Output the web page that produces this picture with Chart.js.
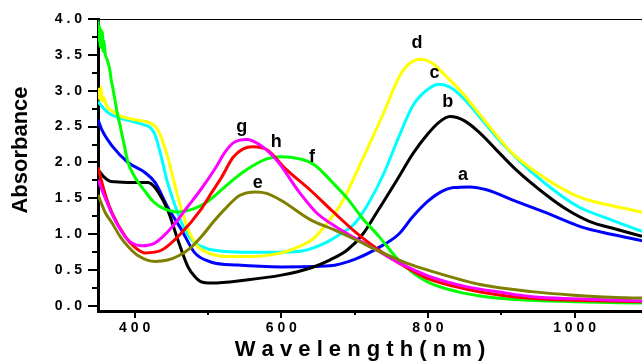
<!DOCTYPE html>
<html>
<head>
<meta charset="utf-8">
<script src="https://cdn.jsdelivr.net/npm/chart.js@4/dist/chart.umd.min.js"></script>
<style>
  html, body { margin: 0; padding: 0; background: #fff; }
  #wrap { width: 642px; height: 363px; position: relative; }
</style>
</head>
<body>
<div id="wrap"><canvas id="myChart"></canvas></div>
<script>
// curve a (blue)
var wlA  = [350, 355, 370, 391, 414, 428, 445, 464, 482, 505, 540, 600, 666, 700, 734, 760, 779, 800, 816, 835, 857, 880, 915, 961, 1010, 1050, 1092];
var absA = [2.6, 2.46, 2.22, 2.0, 1.86, 1.72, 1.38, 1.06, 0.74, 0.61, 0.57, 0.545, 0.56, 0.65, 0.82, 1.0, 1.24, 1.46, 1.58, 1.65, 1.66, 1.62, 1.48, 1.3, 1.1, 1.0, 0.91];
// curve b (black)
var wlB  = [350, 358, 366, 373, 391, 418, 425, 432, 445, 459, 473, 482, 490, 505, 550, 600, 640, 666, 690, 711, 730, 758, 780, 800, 815, 830, 850, 870, 893, 920, 961, 990, 1020, 1057, 1092];
var absB = [1.9, 1.8, 1.74, 1.73, 1.72, 1.72, 1.68, 1.59, 1.34, 0.92, 0.54, 0.41, 0.34, 0.32, 0.36, 0.43, 0.53, 0.64, 0.78, 1.0, 1.3, 1.76, 2.13, 2.4, 2.56, 2.64, 2.58, 2.42, 2.18, 1.9, 1.55, 1.34, 1.18, 1.07, 0.97];
// curve c (cyan)
var wlC  = [350, 358, 366, 380, 398, 414, 421, 428, 437, 444, 451, 464, 478, 496, 523, 560, 600, 630, 660, 680, 700, 720, 740, 760, 780, 800, 815, 830, 850, 870, 900, 940, 980, 1006, 1050, 1092];
var absC = [2.85, 2.75, 2.68, 2.62, 2.57, 2.52, 2.49, 2.38, 2.05, 1.75, 1.52, 1.16, 0.92, 0.81, 0.76, 0.75, 0.75, 0.77, 0.88, 1.0, 1.15, 1.45, 1.85, 2.35, 2.8, 3.02, 3.09, 3.05, 2.88, 2.64, 2.28, 1.88, 1.55, 1.38, 1.2, 1.04];
// curve d (yellow)
var wlD  = [350, 351, 352, 354, 356, 358, 362, 366, 380, 398, 425, 432, 438, 445, 452, 459, 466, 473, 486, 500, 523, 557, 600, 625, 645, 666, 683, 698, 720, 740, 761, 775, 790, 805, 825, 847, 880, 915, 960, 1006, 1050, 1092];
var absD = [2.9, 3.02, 2.88, 3.05, 2.85, 2.9, 2.78, 2.74, 2.65, 2.6, 2.53, 2.45, 2.3, 2.08, 1.8, 1.52, 1.28, 1.06, 0.83, 0.74, 0.69, 0.69, 0.74, 0.83, 0.95, 1.2, 1.45, 1.76, 2.25, 2.7, 3.2, 3.38, 3.44, 3.39, 3.2, 2.97, 2.55, 2.13, 1.78, 1.52, 1.4, 1.31];
// curve e (olive)
var wlE  = [350, 360, 369, 380, 391, 405, 428, 445, 460, 475, 492, 508, 523, 543, 565, 580, 600, 640, 670, 700, 734, 770, 803, 871, 942, 1000, 1050, 1092];
var absE = [1.55, 1.3, 1.16, 0.97, 0.83, 0.7, 0.62, 0.64, 0.7, 0.8, 0.98, 1.18, 1.35, 1.54, 1.59, 1.57, 1.47, 1.2, 1.07, 0.93, 0.76, 0.6, 0.49, 0.3, 0.2, 0.15, 0.12, 0.11];
// curve f (green)
var wlF  = [350, 351, 352, 353, 354, 355, 356, 357, 358, 360, 362, 364, 366, 368, 370, 373, 376, 380, 385, 391, 400, 414, 425, 437, 459, 482, 500, 523, 550, 580, 600, 625, 645, 670, 690, 711, 734, 758, 780, 803, 840, 871, 920, 1000, 1092];
var absF = [3.98, 3.7, 3.9, 3.62, 3.85, 3.6, 3.82, 3.55, 3.7, 3.5, 3.45, 3.38, 3.3, 3.15, 3.05, 2.88, 2.7, 2.52, 2.28, 2.0, 1.8, 1.6, 1.46, 1.37, 1.31, 1.36, 1.46, 1.66, 1.88, 2.05, 2.08, 2.05, 1.97, 1.72, 1.5, 1.22, 0.96, 0.66, 0.46, 0.32, 0.2, 0.14, 0.09, 0.06, 0.04];
// curve g (magenta)
var wlG  = [350, 360, 373, 391, 410, 428, 451, 472, 490, 510, 523, 534, 553, 570, 593, 625, 648, 675, 700, 730, 761, 800, 852, 900, 942, 1000, 1092];
var absG = [1.76, 1.5, 1.2, 0.92, 0.84, 0.88, 1.1, 1.38, 1.62, 1.92, 2.14, 2.27, 2.32, 2.25, 2.04, 1.58, 1.3, 1.1, 0.95, 0.78, 0.6, 0.42, 0.27, 0.19, 0.13, 0.1, 0.07];
// curve h (red)
var wlH  = [350, 360, 369, 387, 400, 414, 437, 464, 490, 505, 519, 534, 548, 561, 580, 607, 639, 670, 700, 730, 760, 800, 850, 900, 950, 1000, 1092];
var absH = [1.93, 1.55, 1.3, 0.97, 0.82, 0.74, 0.78, 1.02, 1.34, 1.58, 1.8, 2.07, 2.19, 2.22, 2.18, 1.9, 1.62, 1.32, 1.04, 0.8, 0.6, 0.38, 0.24, 0.15, 0.1, 0.08, 0.06];

var curveLabels = ['a', 'b', 'c', 'd', 'e', 'f', 'g', 'h'];
var labelWl  = [848, 827, 809, 785, 568, 642, 546, 593];
var labelAbs = [1.83, 2.84, 3.25, 3.67, 1.72, 2.07, 2.49, 2.29];

var yTicks = [0, 0.5, 1.0, 1.5, 2.0, 2.5, 3.0, 3.5, 4.0];
var xTicks = [400, 600, 800, 1000];
var yMinor = [0.25, 0.75, 1.25, 1.75, 2.25, 2.75, 3.25, 3.75];
var xMinor = [500, 700, 900];

function pts(wl, ab) {
	return wl.map(function (x, i) { return {x: x, y: ab[i]}; });
}
function spaced(s) { return s.split('').join(' '); }

function line(wl, ab, col) {
	return {
		data: pts(wl, ab),
		borderColor: col,
		borderWidth: 3,
		pointRadius: 0,
		fill: false,
		cubicInterpolationMode: 'monotone'
	};
}

var decor = {
	id: 'decor',
	afterDraw: function (chart) {
		var ctx = chart.ctx;
		var a = chart.chartArea;
		var xs = chart.scales.x, ys = chart.scales.y;
		ctx.save();
		ctx.strokeStyle = '#000';
		// top frame line
		ctx.lineWidth = 1;
		ctx.beginPath();
		ctx.moveTo(a.left, a.top + 0.5);
		ctx.lineTo(a.right, a.top + 0.5);
		ctx.stroke();
		// ticks
		ctx.lineWidth = 2;
		ctx.beginPath();
		yTicks.forEach(function (v) { var p = Math.round(ys.getPixelForValue(v)); ctx.moveTo(a.left - 10, p); ctx.lineTo(a.left, p); });
		yMinor.forEach(function (v) { var p = Math.round(ys.getPixelForValue(v)); ctx.moveTo(a.left - 6, p); ctx.lineTo(a.left, p); });
		xTicks.forEach(function (v) { var p = Math.round(xs.getPixelForValue(v)); ctx.moveTo(p, a.bottom); ctx.lineTo(p, a.bottom + 7); });
		xMinor.forEach(function (v) { var p = Math.round(xs.getPixelForValue(v)); ctx.moveTo(p, a.bottom); ctx.lineTo(p, a.bottom + 4); });
		ctx.stroke();
		// curve letters
		ctx.fillStyle = '#000';
		ctx.font = 'bold 18px "Liberation Sans", Arial, sans-serif';
		ctx.textAlign = 'center';
		ctx.textBaseline = 'middle';
		curveLabels.forEach(function (t, i) {
			ctx.fillText(t, xs.getPixelForValue(labelWl[i]), ys.getPixelForValue(labelAbs[i]));
		});
		// axis titles
		ctx.font = 'bold 22px "Liberation Sans", Arial, sans-serif';
		ctx.fillText('W a v e l e n g t h ( n m )', 360, 350);
		ctx.translate(21, 150);
		ctx.rotate(-Math.PI / 2);
		ctx.fillText('Absorbance', 0, 0);
		ctx.restore();
	}
};

new Chart('myChart', {
	type: 'line',
	data: {
		datasets: [
			line(wlE, absE, '#808000'),
			line(wlG, absG, '#ff00ff'),
			line(wlH, absH, '#ff0000'),
			line(wlF, absF, '#00ff00'),
			line(wlD, absD, '#ffff00'),
			line(wlC, absC, '#00ffff'),
			line(wlB, absB, '#000000'),
			line(wlA, absA, '#0000ff')
		]
	},
	options: {
		responsive: true,
		maintainAspectRatio: false,
		animation: false,
		layout: { padding: { top: 19, right: 0, left: 0, bottom: 0 } },
		plugins: { legend: { display: false }, tooltip: { enabled: false } },
		scales: {
			x: {
				type: 'linear',
				min: 350,
				max: 1092,
				afterBuildTicks: function (s) { s.ticks = xTicks.map(function (v) { return {value: v}; }); },
				afterFit: function (s) { s.height = 52; s.paddingLeft = 0; s.paddingRight = 0; },
				grid: { display: false, drawTicks: false },
				border: { display: true, color: '#000', width: 3 },
				ticks: {
					color: '#000',
					padding: 9,
					maxRotation: 0,
					font: { family: '"Liberation Sans", Arial, sans-serif', size: 14, weight: 'bold' },
					callback: function (v) { return spaced(String(v)); }
				}
			},
			y: {
				min: -0.07,
				max: 4.0,
				afterBuildTicks: function (s) { s.ticks = yTicks.map(function (v) { return {value: v}; }); },
				afterFit: function (s) { s.width = 98; s.paddingTop = 0; s.paddingBottom = 0; },
				grid: { display: false, drawTicks: false },
				border: { display: true, color: '#000', width: 3 },
				ticks: {
					color: '#000',
					padding: 16,
					font: { family: '"Liberation Sans", Arial, sans-serif', size: 14, weight: 'bold' },
					callback: function (v) { return spaced(v.toFixed(1)); }
				}
			}
		}
	},
	plugins: [decor]
});
</script>
</body>
</html>
